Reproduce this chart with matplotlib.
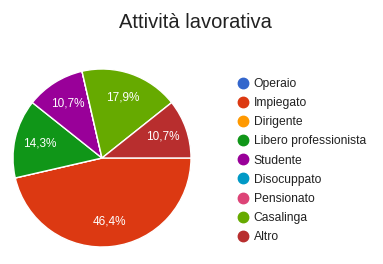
import matplotlib
matplotlib.use('Agg')
import matplotlib.pyplot as plt
from matplotlib.lines import Line2D

plt.rcParams['font.family'] = ['Liberation Sans', 'DejaVu Sans']

categories = ['Operaio', 'Impiegato', 'Dirigente', 'Libero professionista', 'Studente',
              'Disocuppato', 'Pensionato', 'Casalinga', 'Altro']
values = [0, 46.4, 0, 14.3, 10.7, 0, 0, 17.9, 10.7]
colors = ['#3366cc', '#dc3912', '#ff9900', '#109618', '#990099',
          '#0099c6', '#dd4477', '#66aa00', '#b82e2e']

W, H = 383, 264
fig = plt.figure(figsize=(W/100, H/100), dpi=100)
ax = fig.add_axes([13/W, (H-247)/H, 178/W, 178/H])

def fmt(p):
    return (f'{p:.1f}'.replace('.', ',') + '%') if p > 0.5 else ''

wedges, texts, autotexts = ax.pie(values, colors=colors, startangle=0, counterclock=False,
                                  autopct=fmt, pctdistance=0.72,
                                  wedgeprops=dict(edgecolor='white', linewidth=1),
                                  textprops=dict(color='white', fontsize=8.5))
ax.set_aspect('equal')
ax.set_xlim(-1, 1); ax.set_ylim(-1, 1)

fig.text(195/W, 1-23/H, 'Attività lavorativa', ha='center', va='center', fontsize=14.5, color='#222222')

handles = [Line2D([], [], marker='o', ls='', color=c, markersize=7.5) for c in colors]
fig.legend(handles, categories, loc='upper left', bbox_to_anchor=(236/W, 1-78/H),
           frameon=False, fontsize=8.7, labelspacing=0.59, handletextpad=0.35,
           handlelength=1.1, borderpad=0, borderaxespad=0, labelcolor='#222222')

fig.savefig('out.png', dpi=100)
